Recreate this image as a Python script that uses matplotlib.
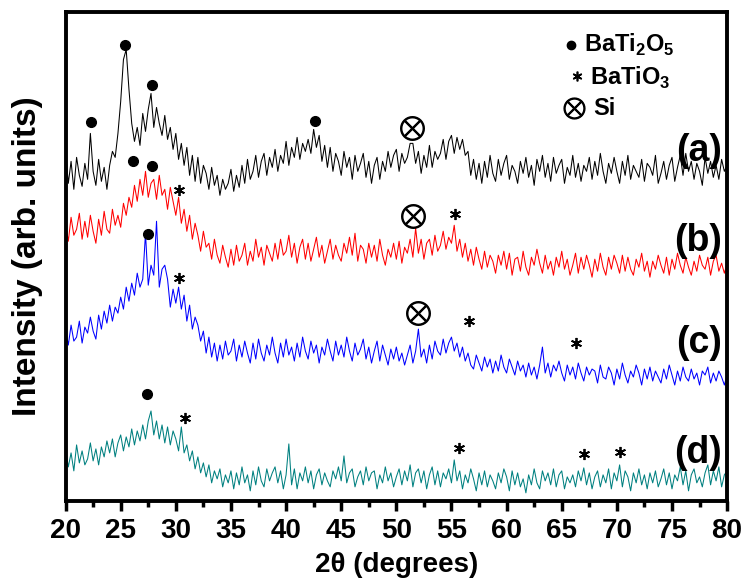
import numpy as np
import matplotlib
matplotlib.use("Agg")
import matplotlib.pyplot as plt

# 2-theta grid, 0.25 degree step from 20 to 80
two_theta = np.arange(20, 80.001, 0.25)

# stacked patterns (already offset), one row per degree: x.00 x.25 x.50 x.75
pattern_a = [
    350, 318, 340, 312,  344, 326, 315, 338,  322, 368, 330, 316,  342, 320, 334, 312,
    336, 350, 344, 368,  400, 442, 452, 412,  378, 360, 374, 356,  388, 370, 392, 408,
    374, 394, 378, 366,  386, 362, 374, 352,  368, 342, 358, 336,  354, 326, 346, 320,
    344, 318, 336, 328,  312, 334, 316, 326,  306, 322, 312, 318,  332, 310, 326, 314,
    336, 318, 342, 322,  330, 346, 324, 340,  348, 326, 344, 334,  352, 330, 346, 338,
    360, 336, 354, 344,  364, 342, 358, 350,  362, 348, 372, 354,  366, 340, 356, 334,
    354, 330, 348, 340,  326, 350, 334, 344,  322, 346, 330, 338,  348, 324, 340, 318,
    336, 344, 322, 340,  330, 350, 334, 346,  352, 330, 348, 338,  344, 358, 358, 338,
    350, 328, 346, 334,  356, 334, 350, 342,  348, 362, 342, 360,  366, 348, 364, 352,
    362, 346, 350, 326,  342, 322, 338, 318,  340, 324, 346, 328,  320, 342, 326, 338,
    346, 322, 336, 330,  318, 340, 328, 344,  324, 336, 316, 342,  330, 346, 324, 338,
    320, 344, 328, 336,  342, 318, 334, 326,  346, 324, 338, 320,  336, 330, 344, 322,
    340, 326, 348, 330,  318, 338, 328, 344,  330, 318, 340, 326,  346, 322, 336, 330,
    324, 342, 320, 338,  334, 326, 346, 318,  328, 340, 322, 336,  344, 320, 334, 346,
    326, 348, 330, 340,  322, 338, 330, 316,  344, 328, 340, 324,  336, 322, 342, 330,
    336,
]
pattern_b = [
    278, 260, 284, 266,  272, 288, 262, 280,  264, 286, 270, 258,  282, 266, 290, 272,
    268, 292, 276, 286,  274, 298, 286, 304,  294, 316, 300, 322,  306, 330, 304, 318,
    322, 302, 326, 306,  312, 292, 314, 300,  286, 304, 278, 292,  270, 286, 262, 278,
    266, 250, 270, 254,  258, 242, 262, 246,  238, 256, 244, 234,  252, 236, 256, 240,
    246, 258, 236, 250,  240, 262, 244, 254,  236, 256, 248, 240,  258, 242, 262, 246,
    250, 266, 244, 258,  238, 254, 262, 242,  258, 240, 252, 264,  244, 256, 238, 250,
    262, 242, 256, 246,  240, 258, 248, 264,  246, 268, 240, 256,  252, 238, 258, 244,
    256, 240, 262, 246,  236, 252, 244, 258,  242, 260, 238, 254,  248, 262, 244, 273,
    248, 262, 242, 258,  262, 246, 266, 250,  256, 270, 252, 264,  258, 276, 250, 262,
    244, 258, 240, 252,  236, 254, 242, 232,  250, 234, 246, 240,  228, 246, 236, 250,
    232, 248, 226, 242,  244, 230, 250, 234,  226, 244, 236, 252,  238, 228, 246, 232,
    240, 226, 244, 234,  250, 232, 242, 226,  236, 248, 228, 244,  232, 246, 236, 224,
    242, 230, 248, 234,  226, 244, 232, 246,  238, 228, 246, 230,  244, 232, 226, 242,
    234, 248, 230, 240,  224, 240, 232, 246,  236, 228, 244, 226,  242, 232, 248, 236,
    228, 244, 234, 226,  240, 230, 246, 236,  232, 244, 226, 240,  246, 230, 238, 228,
    238,
]
pattern_c = [
    172, 156, 176, 160,  164, 180, 158, 174,  168, 184, 170, 162,  186, 172, 190, 178,
    196, 180, 194, 188,  204, 192, 214, 200,  218, 206, 228, 214,  222, 268, 216, 236,
    226, 280, 214, 232,  236, 222, 194, 212,  198, 214, 192, 206,  180, 196, 172, 184,
    176, 160, 170, 148,  164, 144, 158, 140,  156, 142, 160, 146,  150, 162, 140, 156,
    144, 160, 148, 138,  158, 142, 162, 148,  140, 156, 146, 164,  148, 138, 158, 144,
    162, 146, 154, 140,  158, 144, 164, 150,  142, 160, 148, 156,  138, 154, 146, 162,
    150, 140, 160, 146,  156, 144, 164, 150,  140, 158, 146, 152,  162, 142, 154, 138,
    150, 160, 140, 156,  146, 136, 152, 142,  154, 140, 148, 136,  146, 156, 138, 150,
    172, 144, 152, 138,  156, 142, 160, 150,  146, 162, 148, 158,  164, 150, 158, 144,
    154, 140, 148, 136,  132, 146, 138, 130,  144, 134, 142, 128,  140, 130, 146, 134,
    128, 142, 134, 126,  140, 130, 136, 124,  138, 126, 134, 122,  136, 154, 128, 138,
    124, 136, 130, 140,  128, 120, 136, 126,  134, 122, 138, 128,  120, 134, 126, 132,
    130, 118, 136, 124,  122, 134, 128, 116,  132, 122, 138, 126,  118, 130, 124, 136,
    128, 116, 132, 122,  134, 120, 130, 124,  118, 132, 122, 136,  126, 116, 130, 120,
    134, 124, 120, 132,  122, 128, 116, 130,  126, 134, 118, 128,  120, 130, 124, 116,
    126,
]
pattern_d = [
    52, 34, 48, 30,  56, 38, 50, 36,  42, 58, 40, 52,  36, 54, 44, 60,
    48, 62, 44, 58,  66, 50, 64, 54,  72, 56, 70, 60,  76, 62, 80, 90,
    66, 80, 62, 76,  58, 74, 56, 70,  62, 50, 74, 48,  56, 40, 50, 32,
    44, 28, 38, 24,  36, 18, 30, 22,  32, 14, 26, 18,  30, 12, 28, 16,
    34, 18, 26, 10,  30, 16, 34, 20,  14, 32, 20, 28,  34, 18, 30, 12,
    26, 57, 16, 32,  12, 28, 20, 34,  18, 30, 12, 26,  32, 16, 28, 20,
    14, 30, 22, 34,  20, 45, 18, 28,  32, 14, 24, 30,  16, 34, 20, 28,
    30, 12, 26, 18,  34, 20, 28, 14,  24, 32, 16, 30,  20, 36, 14, 28,
    32, 18, 30, 12,  26, 34, 16, 30,  14, 28, 22, 32,  18, 41, 20, 30,
    12, 26, 18, 32,  22, 10, 28, 16,  30, 14, 26, 20,  12, 28, 18, 32,
    24, 10, 30, 16,  28, 14, 22, 8,   26, 16, 32, 18,  12, 30, 20, 28,
    16, 32, 14, 26,  30, 12, 24, 18,  26, 14, 30, 20,  33, 16, 28, 12,
    24, 30, 14, 26,  18, 32, 12, 28,  20, 36, 14, 30,  24, 10, 28, 18,
    32, 16, 26, 12,  28, 18, 30, 14,  22, 32, 16, 28,  12, 26, 20, 34,
    16, 30, 10, 26,  32, 18, 24, 14,  28, 36, 16, 30,  20, 34, 14, 26,
    30,
]

patterns = [pattern_a, pattern_b, pattern_c, pattern_d]
colors = ["black", "red", "blue", "#008080"]
labels = ["(a)", "(b)", "(c)", "(d)"]
label_y = [350, 260, 158, 48]

# phase markers (2theta, height) for each trace
bati2o5_x = [22.3, 25.4, 27.8, 42.6, 26.15, 27.8, 27.5, 27.4]
bati2o5_y = [379, 457, 416, 380, 340, 335, 267, 107]
batio3_x = [30.3, 55.3, 30.3, 56.6, 66.3, 30.8, 55.7, 67.0, 70.3]
batio3_y = [311, 287, 223, 180, 158, 83, 53, 47, 49]
si_x = [51.4, 51.5, 52.0]
si_y = [373, 285, 188]

plt.rcParams["font.family"] = ["Liberation Sans", "DejaVu Sans"]
plt.rcParams["font.weight"] = "bold"
plt.rcParams["mathtext.fontset"] = "custom"
plt.rcParams["mathtext.rm"] = "Liberation Sans:bold"
plt.rcParams["mathtext.bf"] = "Liberation Sans:bold"

fig = plt.figure(figsize=(7.45, 5.79), dpi=100)
ax = fig.add_axes([0.088, 0.135, 0.888, 0.845])

for y, c in zip(patterns, colors):
    ax.plot(two_theta, y, color=c, lw=0.75)

for lab, ly in zip(labels, label_y):
    ax.text(79.5, ly, lab, fontsize=27, fontweight="bold", ha="right", va="center")

asterisk = (6, 2, 0)
ax.plot(bati2o5_x, bati2o5_y, "o", color="black", ms=7, ls="none")
ax.plot(batio3_x, batio3_y, marker=asterisk, color="black", ms=8, mew=1.3, ls="none")
ax.plot(si_x, si_y, marker=r"$\otimes$", color="black", ms=17, ls="none")

# legend drawn by hand at the top right
ax.plot([65.8], [457], "o", color="black", ms=6)
ax.text(67.0, 457, r"BaTi$_2$O$_5$", fontsize=17, va="center")
ax.plot([66.4], [425], marker=asterisk, color="black", ms=7, mew=1.2)
ax.text(67.6, 424, r"BaTiO$_3$", fontsize=17, va="center")
ax.plot([66.1], [393], marker=r"$\otimes$", color="black", ms=15)
ax.text(67.9, 393, "Si", fontsize=17, va="center")

ax.set_xlim(20, 80)
ax.set_ylim(0, 490)
ax.set_xticks(np.arange(20, 81, 5))
ax.set_xticks(np.arange(22.5, 80, 5), minor=True)
ax.set_yticks([])
ax.tick_params(axis="x", which="major", direction="out", length=7, width=2.5, labelsize=20, pad=5)
ax.tick_params(axis="x", which="minor", direction="out", length=4, width=2.5)
for s in ax.spines.values():
    s.set_linewidth(2.8)

ax.set_xlabel("2θ (degrees)", fontsize=20, fontweight="bold", labelpad=6)
ax.set_ylabel("Intensity (arb. units)", fontsize=24, fontweight="bold", labelpad=16)

fig.savefig("out.png", dpi=100)
